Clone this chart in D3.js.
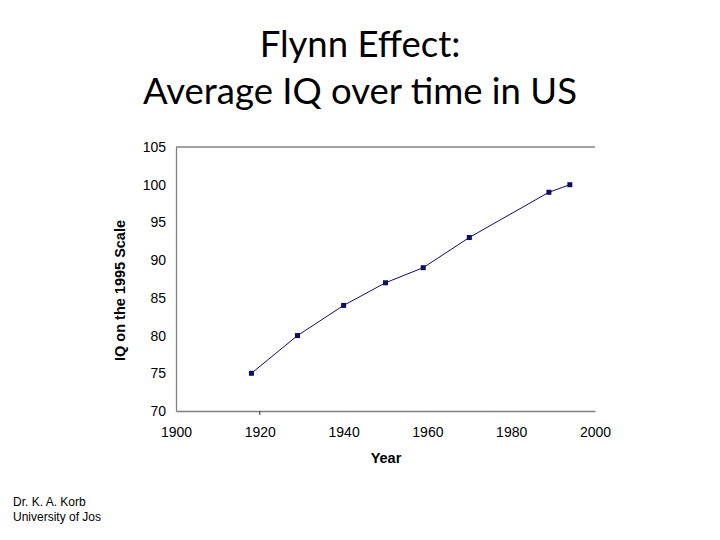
<!DOCTYPE html>
<html>
<head>
<meta charset="utf-8">
<script src="https://cdn.jsdelivr.net/npm/d3@7"></script>
<style>
  body { margin: 0; background: #fff; }
  svg { display: block; }
</style>
</head>
<body>
<script>
const years = [1918, 1929, 1940, 1950, 1959, 1970, 1989, 1994];
const iq = [75, 80, 84, 87, 89, 93, 99, 100];
const yTicks = [70, 75, 80, 85, 90, 95, 100, 105];
const xTickLabels = [1900, 1920, 1940, 1960, 1980, 2000];
const titleLines = ["Flynn Effect:", "Average IQ over time in US"];
const footer = ["Dr. K. A. Korb", "University of Jos"];

const W = 720, H = 540;
const svg = d3.select("body").append("svg").attr("width", W).attr("height", H);

const x = d3.scaleLinear().domain([1900, 2000]).range([176, 595]);
const y = d3.scaleLinear().domain([70, 105]).range([411, 147]);

// Title
svg.selectAll("text.title").data(titleLines).join("text")
  .attr("class", "title")
  .attr("x", 360).attr("y", (d, i) => 57 + i * 47)
  .attr("text-anchor", "middle")
  .attr("font-family", "Lato, 'Open Sans', sans-serif")
  .attr("font-size", 36.5)
  .attr("fill", "#000")
  .text(d => d);

const axisColor = "#808080";
const font = "'Liberation Sans', Arial, sans-serif";

// top border
svg.append("line").attr("x1", x(1900)).attr("x2", x(2000)).attr("y1", y(105)).attr("y2", y(105))
  .attr("stroke", axisColor).attr("stroke-width", 1.3);

// Y axis
const yAxis = d3.axisLeft(y).tickValues(yTicks).tickSize(0).tickPadding(10);
const gy = svg.append("g").attr("transform", `translate(${x(1900)},0)`).call(yAxis);
gy.select(".domain").attr("stroke", axisColor).attr("stroke-width", 1.3);
gy.selectAll("text").attr("font-family", font).attr("font-size", 14).attr("fill", "#000");

// X axis
const xAxis = d3.axisBottom(x).tickValues(xTickLabels).tickSize(0).tickPadding(16).tickFormat(d3.format("d"));
const gx = svg.append("g").attr("transform", `translate(0,${y(70)})`).call(xAxis);
gx.select(".domain").attr("stroke", axisColor).attr("stroke-width", 1.3);
gx.selectAll("text").attr("font-family", font).attr("font-size", 14).attr("fill", "#000");
// single tick mark at 1920 as in the reference
gx.append("line").attr("x1", x(1920)).attr("x2", x(1920)).attr("y1", 0).attr("y2", 4)
  .attr("stroke", "#333").attr("stroke-width", 1);

// Axis titles
svg.append("text").attr("x", 386).attr("y", 463)
  .attr("text-anchor", "middle").attr("font-family", font).attr("font-weight", "bold")
  .attr("font-size", 14.5).text("Year");
svg.append("text").attr("transform", `translate(125,${(218 + 363) / 2}) rotate(-90)`)
  .attr("text-anchor", "middle").attr("font-family", font).attr("font-weight", "bold")
  .attr("font-size", 14.5).text("IQ on the 1995 Scale");

// Line
const color = "#0d0d63";
const pts = years.map((d, i) => [d, iq[i]]);
svg.append("path").datum(pts)
  .attr("d", d3.line().x(d => x(d[0])).y(d => y(d[1])))
  .attr("fill", "none").attr("stroke", color).attr("stroke-width", 1);
svg.selectAll("rect.pt").data(pts).join("rect").attr("class", "pt")
  .attr("x", d => x(d[0]) - 2.5).attr("y", d => y(d[1]) - 2.5)
  .attr("width", 5).attr("height", 5).attr("fill", color);

// Footer
svg.selectAll("text.foot").data(footer).join("text").attr("class", "foot")
  .attr("x", 13).attr("y", (d, i) => 506 + i * 15)
  .attr("font-family", font).attr("font-size", 12).attr("fill", "#000")
  .text(d => d);
</script>
</body>
</html>
